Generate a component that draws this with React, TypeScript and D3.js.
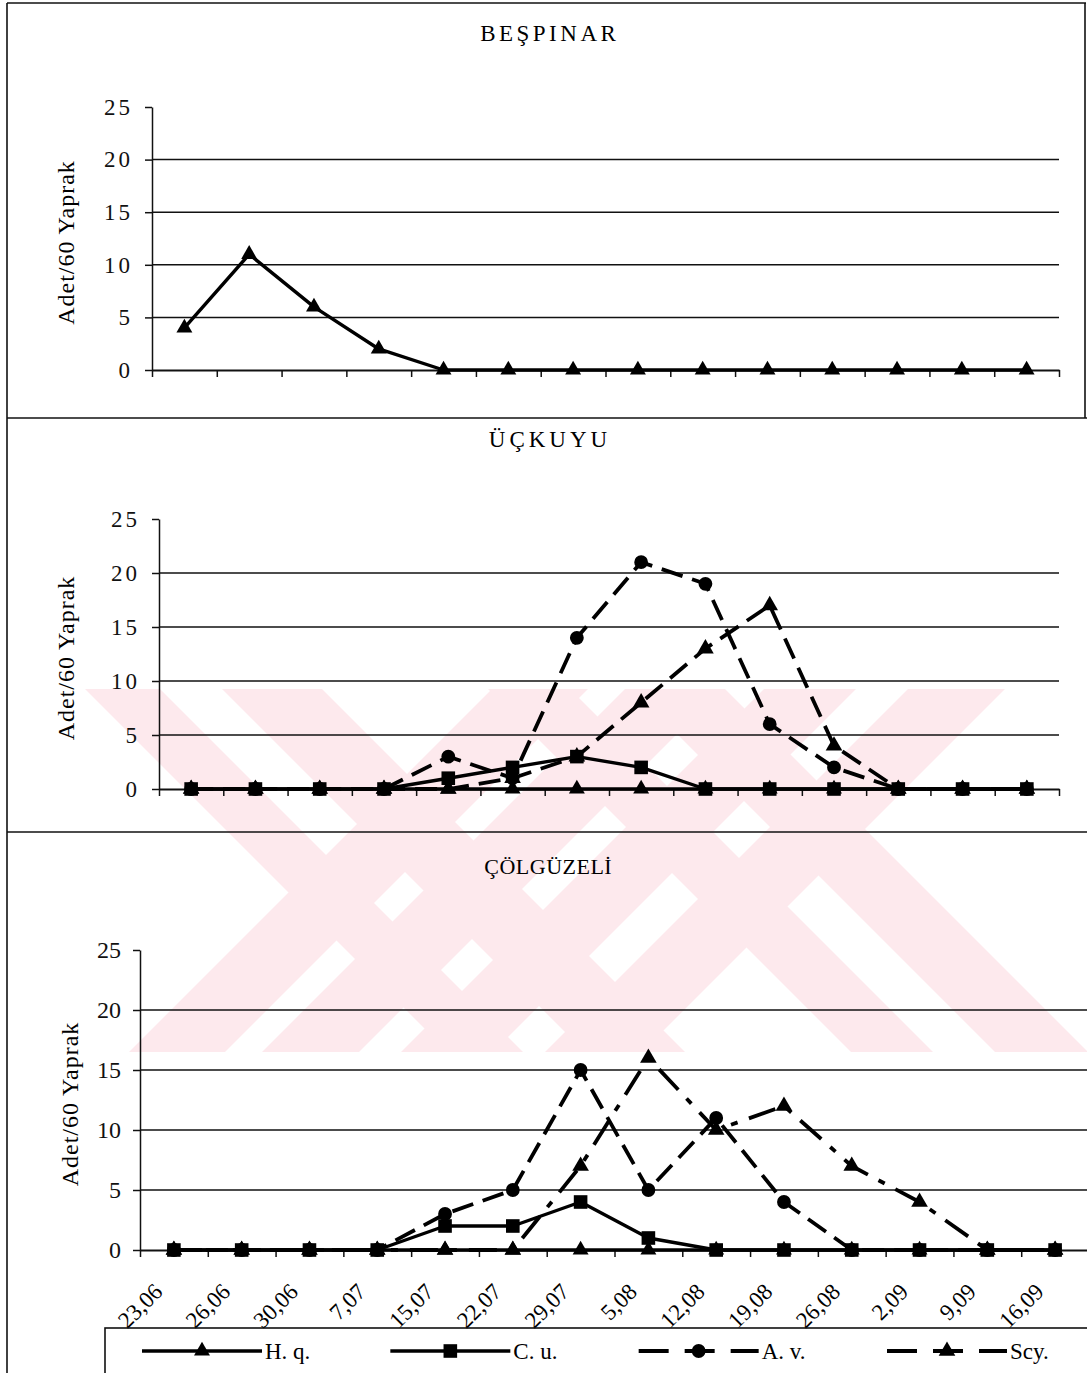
import React, { useEffect, useRef } from 'react';
import * as d3 from 'd3';

// sampling dates (x categories)
const dates = ['23,06', '26,06', '30,06', '7,07', '15,07', '22,07', '29,07', '5,08', '12,08', '19,08', '26,08', '2,09', '9,09', '16,09'];
const yTicks = [0, 5, 10, 15, 20, 25];

// Beşpınar
const besHq = [4, 11, 6, 2, 0, 0, 0, 0, 0, 0, 0, 0, 0, 0];

// Üçkuyu
const uckHq = [0, 0, 0, 0, 0, 0, 0, 0, 0, 0, 0, 0, 0, 0];
const uckCu = [0, 0, 0, 0, 1, 2, 3, 2, 0, 0, 0, 0, 0, 0];
const uckAv = [0, 0, 0, 0, 3, 1, 14, 21, 19, 6, 2, 0, 0, 0];
const uckScy = [0, 0, 0, 0, 0, 1, 3, 8, 13, 17, 4, 0, 0, 0];

// Çölgüzeli
const colHq = [0, 0, 0, 0, 0, 0, 0, 0, 0, 0, 0, 0, 0, 0];
const colCu = [0, 0, 0, 0, 2, 2, 4, 1, 0, 0, 0, 0, 0, 0];
const colAv = [0, 0, 0, 0, 3, 5, 15, 5, 11, 4, 0, 0, 0, 0];
const colScy = [0, 0, 0, 0, 0, 0, 7, 16, 10, 12, 7, 4, 0, 0];

const legendNames = ['H. q.', 'C. u.', 'A. v.', 'Scy.'];

const FONT = "'Liberation Serif', 'Times New Roman', serif";

// marker + line style per series key
const styles: any = {
  hq: { symbol: d3.symbolTriangle, size: 110, dash: null, width: 3.4 },
  cu: { symbol: d3.symbolSquare, size: 185, dash: null, width: 3.4 },
  av: { symbol: d3.symbolCircle, size: 150, dash: '22,10', width: 3.8 },
  scy: { symbol: d3.symbolTriangle, size: 120, dash: '22,10', width: 3.8 },
};

const App = () => {
  const ref = useRef<SVGSVGElement>(null);

  useEffect(() => {
    const svg = d3.select(ref.current);
    svg.selectAll('*').remove();

    // faint pink watermark behind everything (45 degree bands)
    const wTop = 689, wBot = 1052, h = wBot - wTop;
    svg.append('defs').append('clipPath').attr('id', 'wmclip')
      .append('rect').attr('x', 8).attr('y', wTop).attr('width', 1079).attr('height', h);
    const wm = svg.append('g').attr('fill', '#fde9ed').attr('clip-path', 'url(#wmclip)');
    const downRight = [[85, 160], [222, 322], [488, 570], [632, 725]];
    const downLeft = [[492, 588], [625, 722], [764, 856], [908, 1005]];
    downRight.forEach(([a, b]) => {
      wm.append('polygon').attr('points', `${a},${wTop} ${b},${wTop} ${b + h},${wBot} ${a + h},${wBot}`);
    });
    downLeft.forEach(([a, b]) => {
      wm.append('polygon').attr('points', `${a},${wTop} ${b},${wTop} ${b - h},${wBot} ${a - h},${wBot}`);
    });

    const panels = [
      {
        title: 'BEŞPINAR', titleY: 41, titleSize: 23, titleSpacing: 3.5,
        x0: 152, x1: 1059, gridEnd: 1059, yTop: 107, yBot: 370, labelX: 66,
        tickSpacing: 3, tickSize: 23, showDates: false,
        series: [{ key: 'hq', values: besHq }],
      },
      {
        title: 'ÜÇKUYU', titleY: 447, titleSize: 23, titleSpacing: 4,
        x0: 159, x1: 1059, gridEnd: 1059, yTop: 519, yBot: 789, labelX: 66,
        tickSpacing: 3, tickSize: 23, showDates: false,
        series: [
          { key: 'av', values: uckAv },
          { key: 'scy', values: uckScy },
          { key: 'hq', values: uckHq },
          { key: 'cu', values: uckCu },
        ],
      },
      {
        title: 'ÇÖLGÜZELİ', titleY: 874, titleSize: 22, titleSpacing: 0.5,
        x0: 140, x1: 1089, gridEnd: 1087, yTop: 950, yBot: 1250, labelX: 70,
        tickSpacing: 0, tickSize: 24, showDates: true,
        series: [
          { key: 'av', values: colAv },
          { key: 'scy', values: colScy, dash: '28,12,7,12' },
          { key: 'hq', values: colHq },
          { key: 'cu', values: colCu },
        ],
      },
    ];

    panels.forEach((p) => {
      const g = svg.append('g');
      const x = d3.scaleBand().domain(dates).range([p.x0, p.x1]).paddingInner(0).paddingOuter(0);
      const cx = (d: string) => (x(d) as number) + x.bandwidth() / 2;
      const y = d3.scaleLinear().domain([0, 25]).range([p.yBot, p.yTop]);
      const xb = d3.scaleLinear().domain([0, dates.length]).range([p.x0, p.x1]);

      // title
      g.append('text')
        .attr('x', 548 + p.titleSpacing / 2)
        .attr('y', p.titleY)
        .attr('text-anchor', 'middle')
        .style('font-family', FONT)
        .style('font-size', p.titleSize + 'px')
        .style('letter-spacing', p.titleSpacing + 'px')
        .text(p.title);

      // gridlines
      g.selectAll('.grid')
        .data(yTicks.filter((t) => t > 0 && t < 25))
        .enter().append('line')
        .attr('x1', p.x0).attr('x2', p.gridEnd)
        .attr('y1', (d) => y(d)).attr('y2', (d) => y(d))
        .attr('stroke', '#111').attr('stroke-width', 1.5);

      // y axis
      const ya = g.append('g')
        .attr('transform', `translate(${p.x0},0)`)
        .call(d3.axisLeft(y).tickValues(yTicks).tickSize(7).tickPadding(12).tickSizeOuter(0));
      ya.select('.domain').attr('stroke', '#111').attr('stroke-width', 1.5);
      ya.selectAll('.tick line').attr('stroke', '#111').attr('stroke-width', 1.5);
      ya.selectAll('.tick text')
        .style('font-family', FONT)
        .style('font-size', p.tickSize + 'px')
        .style('letter-spacing', p.tickSpacing + 'px')
        .attr('fill', '#111');

      // x axis (ticks between categories)
      const xa = g.append('g')
        .attr('transform', `translate(0,${p.yBot})`)
        .call(d3.axisBottom(xb).tickValues(d3.range(dates.length + 1)).tickSize(7).tickSizeOuter(0).tickFormat(() => ''));
      xa.select('.domain').attr('stroke', '#111').attr('stroke-width', 2);
      xa.selectAll('.tick line').attr('stroke', '#111').attr('stroke-width', 1.5);

      // y axis title
      g.append('text')
        .attr('transform', `translate(${p.labelX},${(p.yTop + p.yBot) / 2 + 4}) rotate(-90)`)
        .attr('text-anchor', 'middle')
        .attr('dominant-baseline', 'central')
        .style('font-family', FONT)
        .style('font-size', '24px')
        .style('letter-spacing', '1px')
        .text('Adet/60 Yaprak');

      // date labels
      if (p.showDates) {
        g.selectAll('.dlab')
          .data(dates)
          .enter().append('text')
          .attr('transform', (d) => `translate(${cx(d) - 10},${p.yBot + 43}) rotate(-45)`)
          .attr('text-anchor', 'end')
          .style('font-family', FONT)
          .style('font-size', '23px')
          .text((d) => d);
      }

      // series
      p.series.forEach((s: any) => {
        const st = styles[s.key];
        const line = d3.line<number>()
          .x((d, i) => cx(dates[i]))
          .y((d) => y(d));
        g.append('path')
          .datum(s.values)
          .attr('d', line)
          .attr('fill', 'none')
          .attr('stroke', '#000')
          .attr('stroke-width', st.width)
          .attr('stroke-linejoin', 'round')
          .attr('stroke-dasharray', s.dash || st.dash);
        g.selectAll('.m-' + s.key)
          .data(s.values)
          .enter().append('path')
          .attr('transform', (d: number, i: number) => `translate(${cx(dates[i])},${y(d)})`)
          .attr('d', d3.symbol().type(st.symbol).size(st.size))
          .attr('fill', '#000');
      });
    });

    // outer frame lines
    const frame = svg.append('g').attr('stroke', '#111').attr('stroke-width', 1.6).attr('fill', 'none');
    frame.append('line').attr('x1', 7).attr('x2', 7).attr('y1', 3).attr('y2', 1373);
    frame.append('line').attr('x1', 7).attr('x2', 1086).attr('y1', 3).attr('y2', 3);
    frame.append('line').attr('x1', 1085).attr('x2', 1085).attr('y1', 3).attr('y2', 418);
    frame.append('line').attr('x1', 7).attr('x2', 1087).attr('y1', 418).attr('y2', 418);
    frame.append('line').attr('x1', 7).attr('x2', 1087).attr('y1', 832).attr('y2', 832);

    // legend
    const lg = svg.append('g');
    lg.append('rect')
      .attr('x', 105).attr('y', 1328).attr('width', 1000).attr('height', 60)
      .attr('fill', 'none').attr('stroke', '#111').attr('stroke-width', 1.6);
    const legKeys = ['hq', 'cu', 'av', 'scy'];
    const legX = d3.scalePoint().domain(legKeys).range([142, 887]);
    legKeys.forEach((k, i) => {
      const st = styles[k];
      const lx = legX(k) as number;
      const ly = 1351;
      lg.append('line')
        .attr('x1', lx).attr('x2', lx + 120).attr('y1', ly).attr('y2', ly)
        .attr('stroke', '#000').attr('stroke-width', st.width)
        .attr('stroke-dasharray', st.dash ? '30,16' : null);
      lg.append('path')
        .attr('transform', `translate(${lx + 60},${ly})`)
        .attr('d', d3.symbol().type(st.symbol).size(st.size))
        .attr('fill', '#000');
      lg.append('text')
        .attr('x', lx + 123).attr('y', ly + 8)
        .style('font-family', FONT)
        .style('font-size', '23px')
        .text(legendNames[i]);
    });
  }, []);

  return (
    <div style={{ position: 'absolute', left: 0, top: 0 }}>
      <svg ref={ref} width={1087} height={1373} style={{ display: 'block', background: '#fff' }} />
    </div>
  );
};

export default App;
